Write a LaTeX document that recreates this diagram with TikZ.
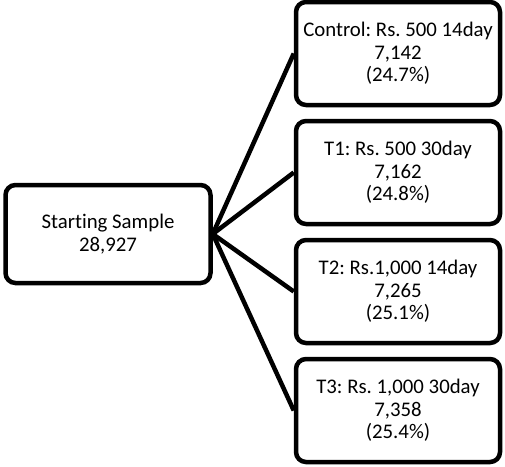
\documentclass[tikz,border=0pt]{standalone}
\usepackage{fontspec}
\setmainfont{Carlito}[Ligatures=NoCommon]
\frenchspacing
\begin{document}
\begin{tikzpicture}[x=1pt,y=1pt,
        groupbox/.style={draw, line width=4.5pt, rounded corners=10pt, fill=white,
            align=center, inner sep=0pt, font=\fontsize{20.8}{22.7}\selectfont},
        armbox/.style={groupbox, minimum width=204pt, minimum height=103pt},
        link/.style={line width=4.5pt}]
        % Fix the page size
        \useasboundingbox (0,0) rectangle (505,-466);
        % Draw the starting sample
        \node[groupbox, minimum width=205pt, minimum height=98pt] (start) at (108,-234) {Starting Sample\\28,927};
        % Draw the four arms
        \node[armbox] (control) at (398,-53.5) {Control: Rs. 500 14day\\7,142\\(24.7\%)};
        \node[armbox] (tone) at (398,-172.5) {T1: Rs. 500 30day\\7,162\\(24.8\%)};
        \node[armbox] (ttwo) at (398,-291.5) {T2: Rs.1,000 14day\\7,265\\(25.1\%)};
        \node[armbox] (tthree) at (398,-410.5) {T3: Rs. 1,000 30day\\7,358\\(25.4\%)};
        % Draw the links
        \draw[link] (start.east) -- (control.west);
        \draw[link] (start.east) -- (tone.west);
        \draw[link] (start.east) -- (ttwo.west);
        \draw[link] (start.east) -- (tthree.west);
    \end{tikzpicture}
\end{document}
